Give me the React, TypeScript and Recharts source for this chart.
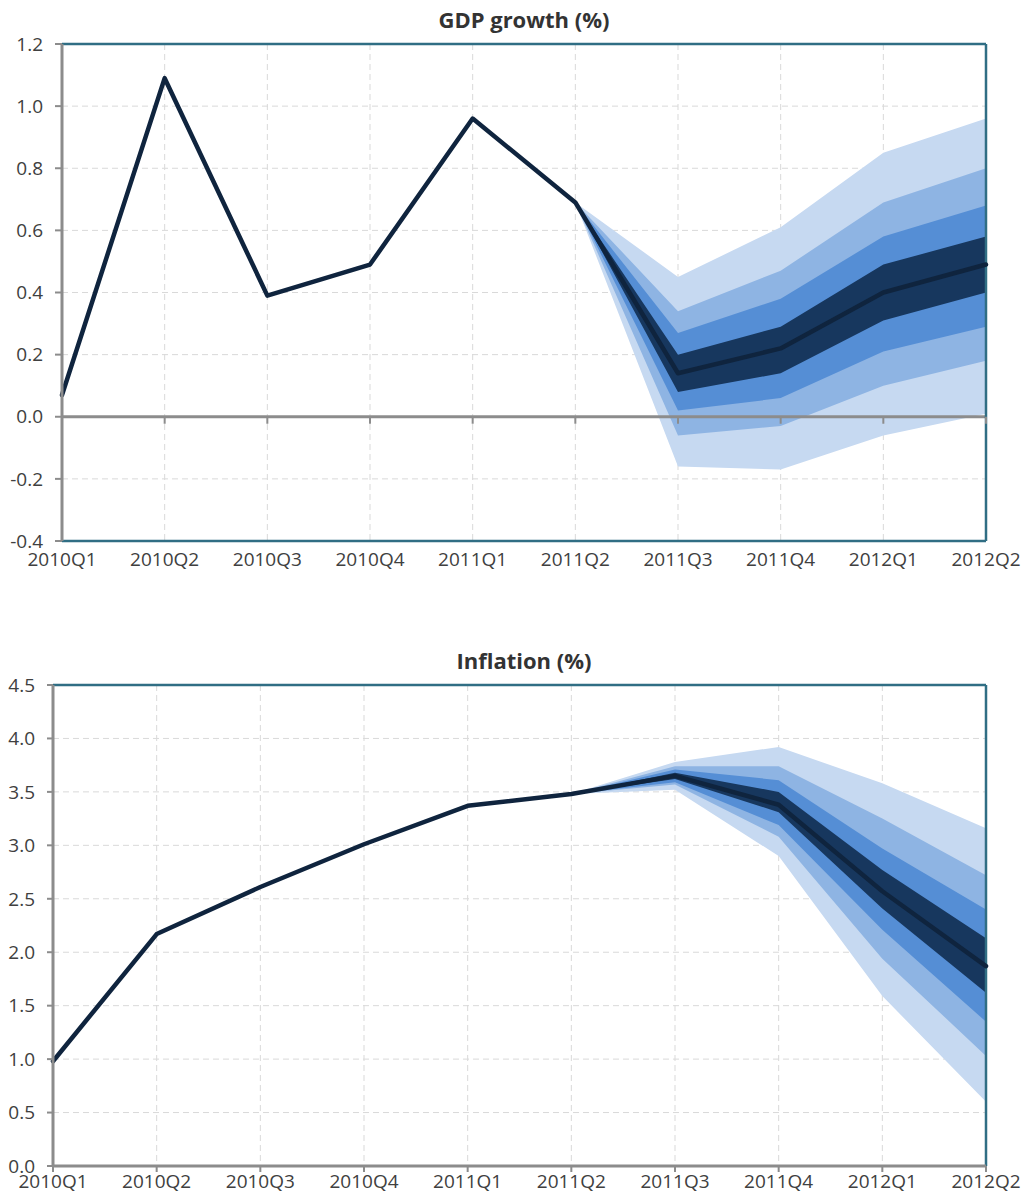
import {
  Area,
  CartesianGrid,
  ComposedChart,
  Line,
  ReferenceLine,
  Scatter,
  XAxis,
  YAxis
} from "recharts";

const quarters = [
  "2010Q1", "2010Q2", "2010Q3", "2010Q4", "2011Q1",
  "2011Q2", "2011Q3", "2011Q4", "2012Q1", "2012Q2"
];

// GDP growth (%)
const gdpCentral = [0.07, 1.09, 0.39, 0.49, 0.96, 0.69, 0.14, 0.22, 0.40, 0.49];
const gdpOuterLow = [null, null, null, null, null, 0.69, -0.16, -0.17, -0.06, 0.01];
const gdpOuterHigh = [null, null, null, null, null, 0.69, 0.45, 0.61, 0.85, 0.96];
const gdpMidLow = [null, null, null, null, null, 0.69, -0.06, -0.03, 0.10, 0.18];
const gdpMidHigh = [null, null, null, null, null, 0.69, 0.34, 0.47, 0.69, 0.80];
const gdpInnerLow = [null, null, null, null, null, 0.69, 0.02, 0.06, 0.21, 0.29];
const gdpInnerHigh = [null, null, null, null, null, 0.69, 0.27, 0.38, 0.58, 0.68];
const gdpCoreLow = [null, null, null, null, null, 0.69, 0.08, 0.14, 0.31, 0.40];
const gdpCoreHigh = [null, null, null, null, null, 0.69, 0.20, 0.29, 0.49, 0.58];
const gdpTicks = [-0.4, -0.2, 0, 0.2, 0.4, 0.6, 0.8, 1.0, 1.2];

// Inflation (%)
const inflCentral = [0.98, 2.17, 2.61, 3.01, 3.37, 3.48, 3.65, 3.38, 2.57, 1.87];
const inflOuterLow = [null, null, null, null, null, 3.48, 3.52, 2.90, 1.59, 0.60];
const inflOuterHigh = [null, null, null, null, null, 3.48, 3.78, 3.92, 3.58, 3.16];
const inflMidLow = [null, null, null, null, null, 3.48, 3.57, 3.08, 1.94, 1.03];
const inflMidHigh = [null, null, null, null, null, 3.48, 3.74, 3.74, 3.25, 2.72];
const inflInnerLow = [null, null, null, null, null, 3.48, 3.59, 3.19, 2.21, 1.35];
const inflInnerHigh = [null, null, null, null, null, 3.48, 3.71, 3.61, 2.97, 2.40];
const inflCoreLow = [null, null, null, null, null, 3.48, 3.62, 3.31, 2.41, 1.62];
const inflCoreHigh = [null, null, null, null, null, 3.48, 3.68, 3.50, 2.77, 2.13];
const inflTicks = [0, 0.5, 1.0, 1.5, 2.0, 2.5, 3.0, 3.5, 4.0, 4.5];

const FONT = "'Open Sans', sans-serif";
const TEXT = "#404040";
const GREY = "#8c8c8c";
const TEAL = "#306e84";
const BANDS = ["#c6d9f1", "#8eb4e3", "#558ed5", "#17375e"];
const LINE = "#0f243e";

type Num = number | null;
const pair = (lo: Num, hi: Num) => (lo == null || hi == null ? null : [lo, hi]);

function buildRows(central: number[], bands: [Num[], Num[]][]) {
  return quarters.map((q, i) => ({
    q,
    central: central[i],
    zero: 0,
    b0: pair(bands[0][0][i], bands[0][1][i]),
    b1: pair(bands[1][0][i], bands[1][1][i]),
    b2: pair(bands[2][0][i], bands[2][1][i]),
    b3: pair(bands[3][0][i], bands[3][1][i])
  }));
}

const gdpRows = buildRows(gdpCentral, [
  [gdpOuterLow, gdpOuterHigh],
  [gdpMidLow, gdpMidHigh],
  [gdpInnerLow, gdpInnerHigh],
  [gdpCoreLow, gdpCoreHigh]
]);

const inflRows = buildRows(inflCentral, [
  [inflOuterLow, inflOuterHigh],
  [inflMidLow, inflMidHigh],
  [inflInnerLow, inflInnerHigh],
  [inflCoreLow, inflCoreHigh]
]);

const tickStyle = { fill: TEXT, fontSize: 19, fontFamily: FONT };

function fanAreas() {
  return ["b0", "b1", "b2", "b3"].map((k, i) => (
    <Area
      key={k}
      type="linear"
      dataKey={k}
      stroke="none"
      fill={BANDS[i]}
      fillOpacity={1}
      dot={false}
      activeDot={false}
      isAnimationActive={false}
    />
  ));
}

const ZeroTick = (props: any) => {
  const { cx, cy } = props;
  return <line x1={cx} x2={cx} y1={cy} y2={cy + 7} stroke={GREY} strokeWidth={2} />;
};

function Title({ top, text }: { top: number; text: string }) {
  return (
    <div
      style={{
        position: "absolute",
        top,
        left: 62,
        width: 924,
        textAlign: "center",
        fontFamily: FONT,
        fontWeight: 700,
        fontSize: 22,
        color: "#333",
        lineHeight: "26px"
      }}
    >
      {text}
    </div>
  );
}

export default function App() {
  return (
    <div style={{ position: "absolute", top: 0, left: 0, width: 1021, height: 1197, background: "#fff" }}>
      <Title top={6} text="GDP growth (%)" />
      <div style={{ position: "absolute", top: 0, left: 0 }}>
        <ComposedChart width={1021} height={580} data={gdpRows} margin={{ top: 44, right: 35, left: 0, bottom: 9 }}>
          <CartesianGrid stroke="#d9d9d9" strokeDasharray="6 4" />
          <XAxis
            dataKey="q"
            scale="point"
            height={30}
            axisLine={false}
            tickLine={false}
            tickSize={6}
            tickMargin={6}
            tick={tickStyle}
            interval={0}
          />
          <YAxis
            width={62}
            domain={[-0.4, 1.2]}
            ticks={gdpTicks}
            tickFormatter={(v: number) => v.toFixed(1)}
            axisLine={{ stroke: GREY, strokeWidth: 3 }}
            tickLine={{ stroke: GREY, strokeWidth: 2 }}
            tickSize={7}
            tickMargin={12}
            tick={tickStyle}
            interval={0}
            allowDataOverflow
          />
          {fanAreas()}
          <ReferenceLine y={0} stroke={GREY} strokeWidth={3} />
          <Scatter dataKey="zero" shape={ZeroTick} isAnimationActive={false} />
          <ReferenceLine y={1.2} stroke={TEAL} strokeWidth={2.5} />
          <ReferenceLine y={-0.4} stroke={TEAL} strokeWidth={2.5} />
          <ReferenceLine x="2012Q2" stroke={TEAL} strokeWidth={2.5} />
          <Line
            type="linear"
            dataKey="central"
            stroke={LINE}
            strokeWidth={4.5}
            strokeLinecap="round"
            strokeLinejoin="round"
            dot={false}
            activeDot={false}
            isAnimationActive={false}
          />
        </ComposedChart>
      </div>

      <Title top={647} text="Inflation (%)" />
      <div style={{ position: "absolute", top: 640, left: 0 }}>
        <ComposedChart width={1021} height={557} data={inflRows} margin={{ top: 45, right: 35, left: 0, bottom: 1 }}>
          <CartesianGrid stroke="#d9d9d9" strokeDasharray="6 4" />
          <XAxis
            dataKey="q"
            scale="point"
            height={30}
            axisLine={{ stroke: GREY, strokeWidth: 3 }}
            tickLine={{ stroke: GREY, strokeWidth: 2 }}
            tickSize={6}
            tickMargin={3}
            tick={tickStyle}
            interval={0}
          />
          <YAxis
            width={53}
            domain={[0, 4.5]}
            ticks={inflTicks}
            tickFormatter={(v: number) => v.toFixed(1)}
            axisLine={{ stroke: GREY, strokeWidth: 3 }}
            tickLine={{ stroke: GREY, strokeWidth: 2 }}
            tickSize={6}
            tickMargin={12}
            tick={tickStyle}
            interval={0}
          />
          {fanAreas()}
          <ReferenceLine y={4.5} stroke={TEAL} strokeWidth={2.5} />
          <ReferenceLine x="2012Q2" stroke={TEAL} strokeWidth={2.5} />
          <Line
            type="linear"
            dataKey="central"
            stroke={LINE}
            strokeWidth={4.5}
            strokeLinecap="round"
            strokeLinejoin="round"
            dot={false}
            activeDot={false}
            isAnimationActive={false}
          />
        </ComposedChart>
      </div>
    </div>
  );
}
